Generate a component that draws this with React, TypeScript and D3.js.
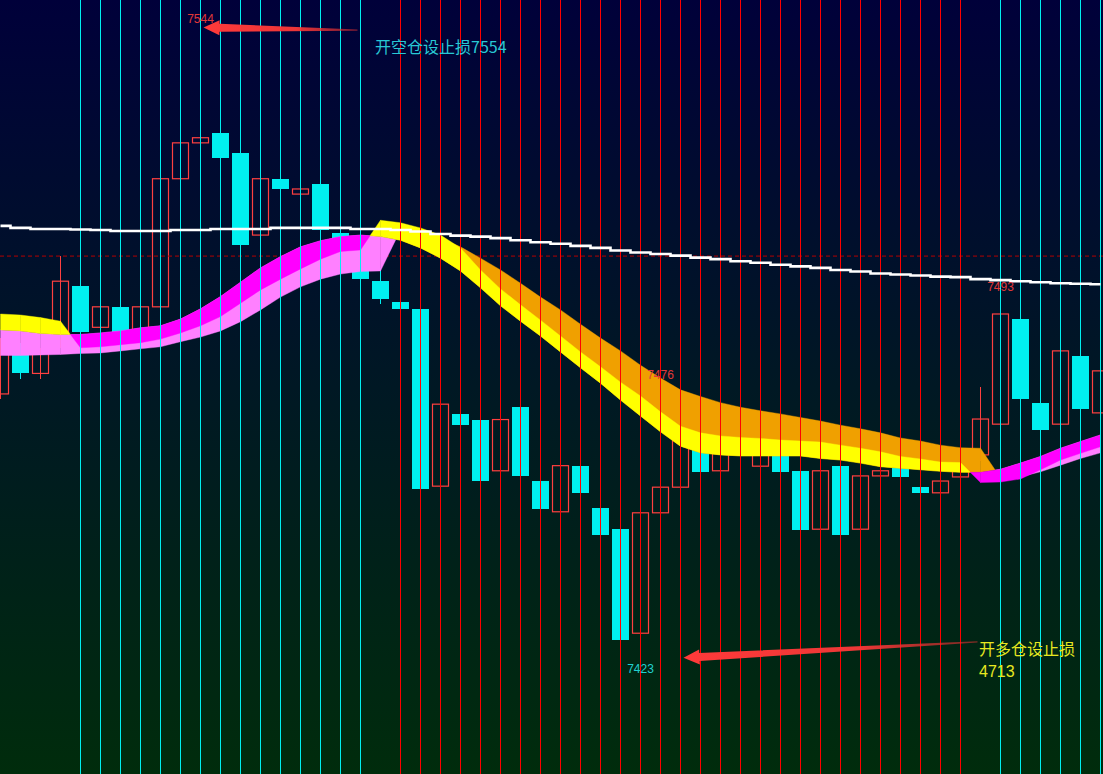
import React from 'react';
import * as d3 from 'd3';

const W = 1103;
const H = 774;

// ---- candle data (one bar every slot) ----
const opens = [7472, 7480, 7476, 7482, 7493, 7485, 7489, 7484, 7489, 7514, 7521, 7523, 7519, 7503, 7514, 7511, 7513, 7503.5, 7497, 7494,
  7490, 7488.5, 7454, 7468, 7467, 7457, 7469.5, 7455, 7449, 7458, 7449.7, 7445.6, 7425.3, 7448.8, 7453.8, 7461.8, 7457, 7460.7, 7457.9, 7460.1,
  7457, 7445.6, 7457.9, 7445.6, 7456, 7457.5, 7453.8, 7452.7, 7455.8, 7460.1, 7466.1, 7486.6, 7470.2, 7466.1, 7479.4, 7468.3];
const closes = [7482, 7476, 7480, 7494, 7484, 7489, 7484, 7489, 7514, 7521, 7522, 7518, 7501, 7514, 7512, 7512, 7504, 7500, 7494.5, 7490.5,
  7488.5, 7453.5, 7470, 7466, 7455, 7467, 7456, 7449.5, 7458, 7452.7, 7444.5, 7424, 7448.8, 7453.8, 7463.4, 7456.8, 7461.4, 7463, 7460.7, 7456.8,
  7445.4, 7457, 7444.5, 7456, 7457, 7455.8, 7452.7, 7455, 7458.1, 7467.1, 7487.6, 7471, 7465, 7480.4, 7469.1, 7476.5];
const highs = [7483, 7482, 7481, 7499, 7494, 7490, 7490, 7490, 7515, 7523, 7524, 7544, 7520, 7515, 7515, 7513, 7514, 7505, 7498, 7496.5,
  7491, 7490, 7471, 7469, 7468, 7468, 7470.5, 7456, 7459, 7459, 7450.5, 7446.5, 7450, 7455, 7465, 7463, 7462.5, 7464, 7462, 7461,
  7458, 7458, 7459, 7457, 7458, 7458.5, 7454.5, 7456, 7459, 7473.4, 7493, 7488, 7471, 7481.5, 7480.5, 7477.5];
const lows = [7471, 7475, 7475, 7481, 7483, 7484, 7483, 7483, 7488, 7513, 7520, 7517, 7500, 7502, 7511, 7510, 7503, 7499, 7494, 7489.5,
  7488, 7453, 7453, 7465, 7454, 7456, 7455, 7449, 7448, 7452, 7443.5, 7423, 7424.5, 7448, 7453, 7456, 7456, 7460, 7457, 7456,
  7444.5, 7444.5, 7443.5, 7445, 7455, 7455, 7452, 7452, 7455, 7459, 7465, 7470, 7464, 7465, 7468, 7467];

// ---- ribbon lines ----
const fastLine = [7484.5, 7484.3, 7483.8, 7483.6, 7483.6, 7483.9, 7484.3, 7484.9, 7485.3, 7486.6, 7488.6, 7491.0, 7493.8, 7496.6, 7498.8, 7500.7, 7501.9, 7502.7, 7503.0, 7502.7,
  7502.0, 7500.5, 7498.5, 7496.0, 7492.7, 7489.2, 7486.2, 7483.3, 7480.2, 7477.1, 7474.1, 7470.8, 7467.7, 7464.6, 7461.8, 7460.5, 7460.1, 7459.9, 7459.9, 7459.9,
  7459.9, 7459.4, 7459.1, 7458.5, 7457.8, 7457.5, 7457.2, 7456.9, 7456.7, 7456.7, 7457.3, 7458.5, 7459.8, 7461.4, 7462.7, 7464.0];
const midLine = [7487.6, 7487.4, 7486.9, 7486.2, 7481.0, 7481.2, 7481.6, 7482.0, 7482.7, 7483.9, 7485.3, 7487.1, 7489.7, 7492.3, 7494.4, 7496.4, 7498.3, 7499.8, 7500.1, 7505.9,
  7505.4, 7504.4, 7503.0, 7500.5, 7496.2, 7492.5, 7489.4, 7486.4, 7483.3, 7480.2, 7477.3, 7474.3, 7471.6, 7468.5, 7465.7, 7464.4, 7463.8, 7463.5, 7463.3, 7463.0,
  7462.8, 7462.6, 7462.0, 7461.4, 7460.7, 7459.8, 7459.3, 7458.7, 7458.6, 7454.7, 7454.8, 7455.4, 7457.2, 7459.1, 7460.4, 7461.7];
const slowLine = [7479.5, 7479.5, 7479.6, 7479.7, 7479.9, 7480.0, 7480.4, 7480.8, 7481.2, 7482.2, 7483.1, 7484.3, 7486.1, 7488.4, 7490.9, 7492.9, 7494.4, 7495.4, 7495.9, 7496.0,
  7504.0, 7503.6, 7502.4, 7500.7, 7498.5, 7496.2, 7493.6, 7490.9, 7488.4, 7485.6, 7482.9, 7480.4, 7477.6, 7475.1, 7472.8, 7471.5, 7470.3, 7469.4, 7468.7, 7468.1,
  7467.4, 7466.7, 7465.9, 7465.2, 7464.4, 7463.4, 7462.8, 7462.0, 7461.5, 7461.4, 7455.6, 7455.8, 7456.8, 7458.1, 7459.4, 7460.5];
const maLine = [7504.8, 7504.4, 7504.2, 7504.2, 7504.1, 7504.0, 7503.8, 7503.8, 7503.8, 7504.0, 7504.0, 7504.2, 7504.2, 7504.2, 7504.4, 7504.4, 7504.4, 7504.4, 7504.2, 7504.2,
  7504.0, 7503.7, 7503.2, 7502.9, 7502.7, 7502.4, 7502.0, 7501.6, 7501.3, 7500.9, 7500.5, 7500.0, 7499.6, 7499.3, 7499.0, 7498.6, 7498.3, 7497.9, 7497.6, 7497.2,
  7496.9, 7496.6, 7496.2, 7495.9, 7495.5, 7495.3, 7495.1, 7494.9, 7494.8, 7494.4, 7494.2, 7494.0, 7493.8, 7493.6, 7493.5, 7493.4];
// 1 = long signal (cyan line), -1 = short signal (red line), 0 = none
const signal = [0, 0, 0, 0, 1, 1, 1, 1, 1, 1, 1, 1, 1, 1, 1, 1, 1, 1, 1, 0,
  -1, -1, -1, -1, -1, -1, -1, -1, -1, -1, -1, -1, -1, -1, -1, -1, -1, -1, -1, -1,
  -1, -1, -1, -1, -1, -1, -1, -1, -1, 0, 1, 1, 1, 1, 1, 1];
const refLevel = 7498.9;

const priceLabels = [
  { bar: 10, value: 7544, dy: -2, color: '#e03838' },
  { bar: 33, value: 7476, dy: 6, color: '#e03838' },
  { bar: 50, value: 7493, dy: 4.5, color: '#e03838' },
  { bar: 32, value: 7423, dy: 27.5, color: '#20d0d0' },
];
const arrows = [
  { tipBar: 10.15, tipPrice: 7543.5, tailBar: 17.85, tailPrice: 7543.0 },
  { tipBar: 34.15, tipPrice: 7420.5, tailBar: 48.85, tailPrice: 7423.6 },
];
const notes = [
  { bar: 18.725, price: 7538.5, text: '开空仓设止损7554', color: '#28c8d4', font: "'Noto Sans CJK SC', 'Noto Sans', sans-serif" },
  { bar: 48.925, price: 7421.0, text: '开多仓设止损', color: '#e8e820', font: "'Noto Sans CJK SC', 'Noto Sans', sans-serif" },
  { bar: 48.925, price: 7416.8, text: '4713', color: '#e8e820', font: "'Liberation Sans', 'DejaVu Sans', sans-serif" },
];

const x = d3.scaleLinear().domain([0, 55]).range([0.5, 1100.5]);
const y = d3.scaleLinear().domain([7423, 7544]).range([645, 25]);

type Seg = { pts: [number, number][]; color: string };

function bandSegments(a: number[], b: number[], up: string, down: string): Seg[] {
  const segs: Seg[] = [];
  for (let i = 0; i < a.length - 1; i++) {
    const x0 = x(i), x1 = x(i + 1);
    const a0 = y(a[i]), a1 = y(a[i + 1]), b0 = y(b[i]), b1 = y(b[i + 1]);
    const d0 = a[i] - b[i], d1 = a[i + 1] - b[i + 1];
    if (d0 * d1 < 0) {
      const t = d0 / (d0 - d1);
      const xc = x0 + t * (x1 - x0);
      const yc = a0 + t * (a1 - a0);
      segs.push({ pts: [[x0, a0], [xc, yc], [x0, b0]], color: d0 > 0 ? up : down });
      segs.push({ pts: [[xc, yc], [x1, a1], [x1, b1]], color: d1 > 0 ? up : down });
    } else {
      segs.push({ pts: [[x0, a0], [x1, a1], [x1, b1], [x0, b0]], color: d0 + d1 >= 0 ? up : down });
    }
  }
  return segs;
}

function arrowPath(tx: number, ty: number, ex: number, ey: number, head: number, halfHead: number, halfShaft: number) {
  const dx = ex - tx, dy = ey - ty;
  const len = Math.hypot(dx, dy);
  const ux = dx / len, uy = dy / len;
  const nx = -uy, ny = ux;
  const bx = tx + ux * head, by = ty + uy * head;
  const p = [
    [tx, ty],
    [bx + nx * halfHead, by + ny * halfHead],
    [bx + nx * halfShaft, by + ny * halfShaft],
    [ex + nx * 0.6, ey + ny * 0.6],
    [ex - nx * 0.6, ey - ny * 0.6],
    [bx - nx * halfShaft, by - ny * halfShaft],
    [bx - nx * halfHead, by - ny * halfHead],
  ];
  return 'M' + p.map((q) => q[0].toFixed(2) + ',' + q[1].toFixed(2)).join('L') + 'Z';
}

export default function App() {
  const bars = d3.range(opens.length);
  const bandB = bandSegments(fastLine, slowLine, '#ff80ff', '#f0a000');
  const bandA = bandSegments(fastLine, midLine, '#ff00ff', '#ffff00');
  const maPath = d3.line<number>().x((_, i) => x(i)).y((v) => y(v)).curve(d3.curveStep)(maLine) || '';
  const poly = (s: Seg) => s.pts.map((p) => p[0].toFixed(2) + ',' + p[1].toFixed(2)).join(' ');

  return (
    <svg width={W} height={H} style={{ position: 'absolute', left: 0, top: 0, display: 'block' }}>
      <defs>
        <linearGradient id="bg" x1="0" y1="0" x2="0" y2="1">
          <stop offset="0%" stopColor="#00003a" />
          <stop offset="50%" stopColor="#001824" />
          <stop offset="100%" stopColor="#002c0c" />
        </linearGradient>
        <linearGradient id="arrowFade" x1="0" y1="0" x2="1" y2="0">
          <stop offset="0%" stopColor="#ff3a3a" stopOpacity={1} />
          <stop offset="60%" stopColor="#f83838" stopOpacity={0.95} />
          <stop offset="100%" stopColor="#e03030" stopOpacity={0.55} />
        </linearGradient>
      </defs>
      <rect x={0} y={0} width={W} height={H} fill="url(#bg)" />

      {/* candles */}
      <g>
        {bars.map((i) => {
          const up = closes[i] > opens[i];
          const cx = x(i);
          const col = up ? '#ff4040' : '#00f0f0';
          const top = y(Math.max(opens[i], closes[i]));
          const bot = y(Math.min(opens[i], closes[i]));
          return (
            <g key={i}>
              <line x1={cx} x2={cx} y1={y(highs[i])} y2={y(lows[i])} stroke={col} strokeWidth={1} shapeRendering="crispEdges" />
              {up ? (
                <rect x={cx - 8} y={top} width={16} height={Math.max(1, bot - top)} fill="none" stroke={col} strokeWidth={1.2} />
              ) : (
                <rect x={cx - 8.5} y={top} width={17} height={Math.max(1, bot - top)} fill={col} shapeRendering="crispEdges" />
              )}
            </g>
          );
        })}
      </g>

      <line x1={0} x2={W} y1={y(refLevel)} y2={y(refLevel)} stroke="#b40000" strokeWidth={1} strokeDasharray="4 3" />

      {/* ribbons */}
      <g>
        {bandB.map((s, k) => (
          <polygon key={'b' + k} points={poly(s)} fill={s.color} stroke={s.color} strokeWidth={0.4} />
        ))}
        {bandA.map((s, k) => (
          <polygon key={'a' + k} points={poly(s)} fill={s.color} stroke={s.color} strokeWidth={0.4} />
        ))}
      </g>

      {/* signal lines */}
      <g shapeRendering="crispEdges">
        {bars.filter((i) => signal[i] !== 0).map((i) => (
          <line key={i} x1={x(i)} x2={x(i)} y1={0} y2={H} stroke={signal[i] > 0 ? '#00f0f0' : '#ff0000'} strokeWidth={1} />
        ))}
      </g>

      <path d={maPath} fill="none" stroke="#ffffff" strokeWidth={2.6} />

      {/* arrows */}
      {arrows.map((a, k) => (
        <path
          key={k}
          d={arrowPath(x(a.tipBar), y(a.tipPrice), x(a.tailBar), y(a.tailPrice), 16, 7.5, 4)}
          fill="url(#arrowFade)"
        />
      ))}

      {priceLabels.map((l, k) => (
        <text key={k} x={x(l.bar)} y={y(l.value) + l.dy} fill={l.color} fontSize={12} textAnchor="middle"
          fontFamily="'Liberation Sans', 'DejaVu Sans', sans-serif">
          {l.value}
        </text>
      ))}

      {notes.map((n, k) => (
        <text key={k} x={x(n.bar)} y={y(n.price)} fill={n.color} fontSize={16} fontFamily={n.font}>
          {n.text}
        </text>
      ))}
    </svg>
  );
}
